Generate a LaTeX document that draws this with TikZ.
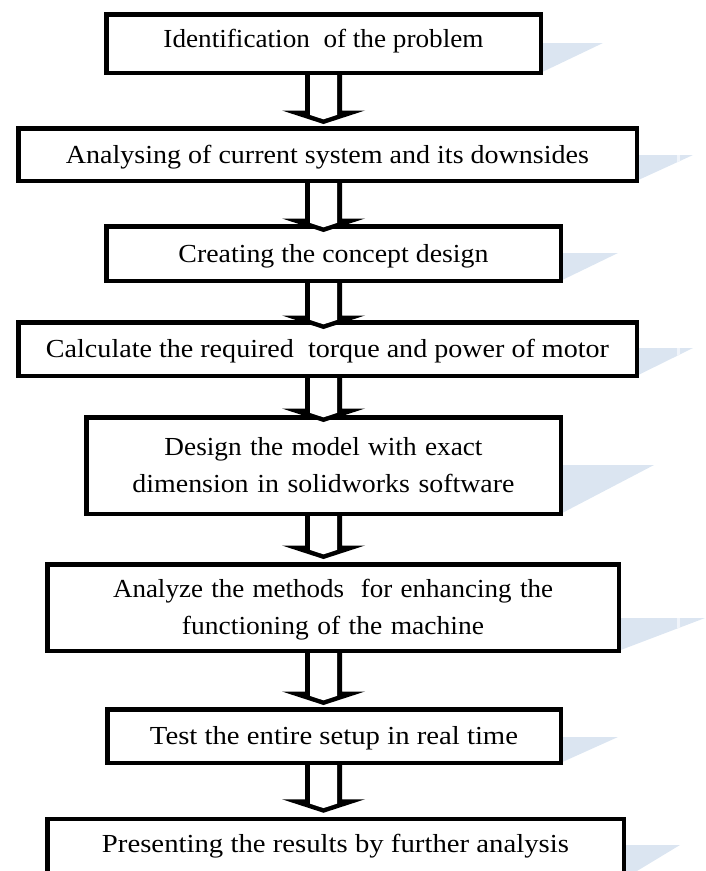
\documentclass[tikz,border=0pt]{standalone}
\usepackage{fontspec}
\usepackage{graphicx}
\setmainfont{Liberation Serif}[FakeStretch=1.08]
\usetikzlibrary{calc,backgrounds}
\definecolor{shadowblue}{RGB}{219,229,241}
\definecolor{stripeblue}{RGB}{240,244,250}
\tikzset{
  stepbox/.style={draw=black, line width=4.5pt, fill=white, inner sep=0pt, outer sep=0pt,
    font=\fontsize{26pt}{37pt}\selectfont, text height=17.2pt, text depth=0pt},
  twoline/.style={text width=#1, align=center, text depth=37pt},
  arrowouter/.style={fill=black},
  arrowinner/.style={fill=white},
}
\newcommand\fitw[2]{\resizebox{#1pt}{\height}{#2}}
% #1 upper node, #2 lower node, #3 tip offset below the top of #2
\newcommand\blockarrow[3]{%
  \fill[arrowouter] ($(#1.south -| axis)+(-18.5,0)$) -- ($(#2.north -| axis)+(-18.5,#3-13.5)$)
    -- ($(#2.north -| axis)+(-41.5,#3-13.5)$) -- ($(#2.north -| axis)+(0,#3)$)
    -- ($(#2.north -| axis)+(41.5,#3-13.5)$) -- ($(#2.north -| axis)+(18.5,#3-13.5)$)
    -- ($(#1.south -| axis)+(18.5,0)$) -- cycle;
  \fill[arrowinner] ($(#1.south -| axis)+(-13.5,2.25)$) -- ($(#2.north -| axis)+(-13.5,#3-9.1)$)
    -- ($(#2.north -| axis)+(0,#3-4.7)$) -- ($(#2.north -| axis)+(13.5,#3-9.1)$)
    -- ($(#1.south -| axis)+(13.5,2.25)$) -- cycle;}
\newcommand\shadowtri[3]{%
  \fill[shadowblue] (#1.south east) -- ($(#1.east)+(0,#2)$) -- ($(#1.east)+(#3,#2)$) -- cycle;}
\newcommand\shadowstripe[4]{%
  \begin{scope}
    \clip (#1.south east) -- ($(#1.east)+(0,#2)$) -- ($(#1.east)+(#3,#2)$) -- cycle;
    \fill[stripeblue] ($(#1.east)+(#4-1.5,#2-1)$) rectangle ($(#1.east)+(#4+1.5,#2+80)$);
  \end{scope}}
\begin{document}
\begin{tikzpicture}[x=1pt,y=-1pt]
\useasboundingbox (0,0) rectangle (706,871);
\coordinate (axis) at (323.5,0);

\node[stepbox, minimum width=434.5pt, minimum height=58.5pt, text depth=10.2pt] (b1) at (323.5,43.5) {\fitw{320}{Identification\ \ of the problem}};
\node[stepbox, minimum width=618.5pt, minimum height=52.5pt] (b2) at (327.5,154.5) {\fitw{523}{Analysing of current system and its downsides}};
\node[stepbox, minimum width=454.5pt, minimum height=54.5pt] (b3) at (333.5,253.5) {\fitw{310}{Creating\ the\ concept design}};
\node[stepbox, minimum width=618.5pt, minimum height=53.5pt] (b4) at (327.5,349) {\fitw{563}{Calculate\ the required\ \ torque\ and\ power of motor}};
\node[stepbox, twoline=460pt, minimum width=474.5pt, minimum height=96.5pt] (b5) at (323.5,465.5) {\fitw{318}{Design the model with exact}\\\fitw{382}{dimension in solidworks software}};
\node[stepbox, twoline=560pt, minimum width=571.5pt, minimum height=86.5pt] (b6) at (333,607.5) {\fitw{440}{Analyze the methods\ \ for enhancing the}\\\fitw{302}{functioning of the\ machine}};
\node[stepbox, minimum width=453.5pt, minimum height=53.5pt] (b7) at (334,736) {\fitw{368}{Test the entire setup in real time}};
\node[stepbox, minimum width=576.5pt, minimum height=60pt, text depth=11.2pt] (b8) at (335.5,849) {\fitw{467}{Presenting\ the results by further analysis}};

\begin{pgfonlayer}{background}
  \shadowtri{b1}{-0.5}{62.25}
  \shadowtri{b2}{0.5}{56.25}
  \shadowstripe{b2}{0.5}{56.25}{41.25}
  \shadowtri{b3}{-0.5}{57.25}
  \shadowtri{b4}{-1}{56.25}
  \shadowstripe{b4}{-1}{56.25}{41.25}
  \shadowtri{b5}{-0.5}{93.25}
  \shadowtri{b6}{10.5}{86.25}
  \shadowstripe{b6}{10.5}{86.25}{59.25}
  \shadowtri{b7}{1}{57.25}
  \shadowtri{b8}{-4}{56.25}
\end{pgfonlayer}

\blockarrow{b1}{b2}{-4.25}
\blockarrow{b2}{b3}{5.75}
\blockarrow{b3}{b4}{6.75}
\blockarrow{b4}{b5}{4.75}
\blockarrow{b5}{b6}{-5.25}
\blockarrow{b6}{b7}{-4.25}
\blockarrow{b7}{b8}{-6.25}
\end{tikzpicture}
\end{document}
